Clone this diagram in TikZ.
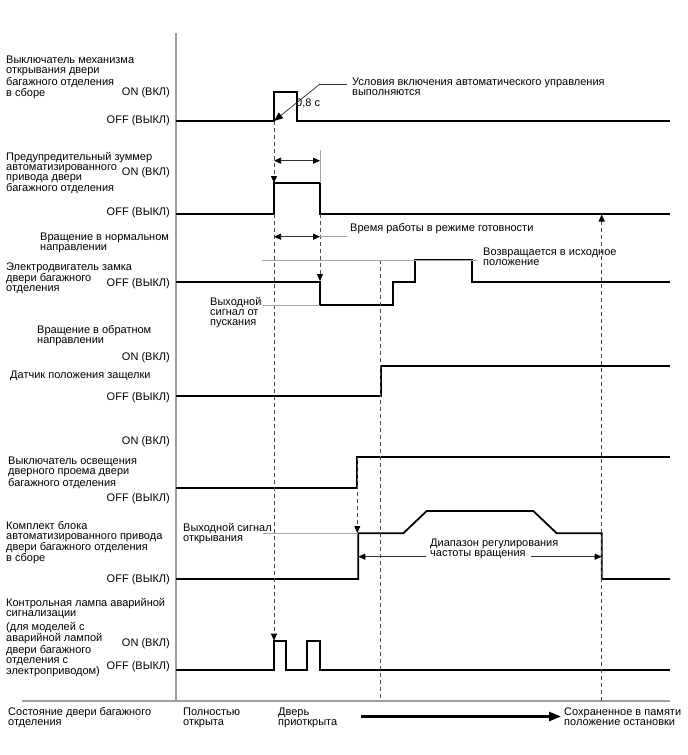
\documentclass[tikz,border=0pt]{standalone}
\usepackage{fontspec}
\setmainfont{Liberation Sans}
\usetikzlibrary{arrows.meta}
\begin{document}
\begin{tikzpicture}[x=1pt,y=-1pt,
  txt/.style={font=\fontsize{11}{10}\selectfont, inner sep=0pt, align=left, anchor=north west},
  st/.style={font=\fontsize{11}{10}\selectfont, inner sep=0pt, anchor=base east},
  sig/.style={line width=1.8pt, line join=miter, black},
  axisline/.style={line width=1.1pt, gray!75},
  thinline/.style={line width=0.7pt, gray!70},
  arrline/.style={line width=0.75pt, black!80},
  dashline/.style={line width=0.8pt, gray!60!black, dash pattern=on 4pt off 3pt},
  tip/.style={-{Triangle[length=7pt,width=6pt,color=black]}},
  dtip/.style={{Triangle[length=7pt,width=6pt,color=black]}-{Triangle[length=7pt,width=6pt,color=black]}},
]
\useasboundingbox (0,0) rectangle (688,755);
\fill[white] (0,0) rectangle (688,755);

% axes
\coordinate (axT) at (176,33);
\coordinate (axB) at (176,701);
\coordinate (blL) at (22,701);
\coordinate (blR) at (670,701);
\draw[axisline] (axT) -- (axB);
\draw[axisline] (blL) -- (blR);

% ---------- left labels ----------
\node[txt] (l1) at (6,56) {Выключатель механизма\\открывания двери\\багажного отделения\\в сборе};
\node[st] (on1) at (170,95) {ON (ВКЛ)};
\node[st] (off1) at (170,123) {OFF (ВЫКЛ)};

\node[txt] (l2) at (6,152) {Предупредительный зуммер\\автоматизированного\\привода двери\\багажного отделения};
\node[st] (on2) at (170,175) {ON (ВКЛ)};
\node[st] (off2) at (170,215) {OFF (ВЫКЛ)};

\node[txt] (l3) at (40,232.5) {Вращение в нормальном\\направлении};
\node[txt] (l4) at (6,262.5) {Электродвигатель замка\\двери багажного\\отделения};
\node[st] (off4) at (170,286) {OFF (ВЫКЛ)};

\node[txt] (l5) at (37,325.5) {Вращение в обратном\\направлении};
\node[st] (on5) at (170,360) {ON (ВКЛ)};
\node[txt] (l6) at (10,370.5) {Датчик положения защелки};
\node[st] (off5) at (170,400) {OFF (ВЫКЛ)};

\node[st] (on7) at (170,444) {ON (ВКЛ)};
\node[txt] (l7) at (8,457) {Выключатель освещения\\дверного проема двери\\багажного отделения};
\node[st] (off7) at (170,501) {OFF (ВЫКЛ)};

\node[txt] (l8) at (6,521) {Комплект блока\\автоматизированного привода\\двери багажного отделения\\в сборе};
\node[st] (off8) at (170,582) {OFF (ВЫКЛ)};

\node[txt] (l9) at (6,598.5) {Контрольная лампа аварийной\\сигнализации\\[2pt](для моделей с\\аварийной лампой\\двери багажного\\отделения с\\электроприводом)};
\node[st] (on9) at (170,646) {ON (ВКЛ)};
\node[st] (off9) at (170,669) {OFF (ВЫКЛ)};

% ---------- signals ----------
\draw[sig] (176,121) -- (274,121) -- (274,91.7) -- (296.7,91.7) -- (296.7,121) -- (670,121);
\draw[sig] (176,214) -- (274,214) -- (274,183) -- (320,183) -- (320,214) -- (670,214);
\draw[sig] (176,282) -- (320,282) -- (320,305) -- (392.7,305) -- (392.7,282) -- (415,282) -- (415,260) -- (472,260) -- (472,282) -- (670,282);
\draw[sig] (176,396) -- (380.7,396) -- (380.7,366) -- (670,366);
\draw[sig] (176,488) -- (357.3,488) -- (357.3,457) -- (670,457);
\draw[sig] (176,579) -- (358.3,579) -- (358.3,533.3) -- (403.3,533.3) -- (426.7,511) -- (533.3,511) -- (556.7,533.3) -- (601.7,533.3) -- (601.7,579) -- (670,579);
\draw[sig] (176,670) -- (274,670) -- (274,640.7) -- (285.7,640.7) -- (285.7,670) -- (307.3,670) -- (307.3,640.7) -- (320,640.7) -- (320,670) -- (670,670);

% ---------- dashed timing lines ----------
\draw[dashline,tip] (274,121) -- (274,183);
\draw[dashline,tip] (274,214) -- (274,640.7);
\draw[dashline,tip] (320,214) -- (320,281);
\draw[dashline] (380.7,260) -- (380.7,701);
\draw[dashline,tip] (357.3,457) -- (357.3,533);
\draw[dashline,tip] (601.7,701) -- (601.7,214.5);

% ---------- annotations ----------
\coordinate (c1a) at (347,84);
\coordinate (c1b) at (320,84);
\coordinate (c1c) at (274,121);
\draw[arrline] (c1a) -- (c1b);
\draw[arrline,-{Triangle[length=9pt,width=7pt,color=black]}] (c1b) -- (c1c);
\node[txt] (cond) at (352,77.5) {Условия включения автоматического управления\\выполняются};
\node[txt] (t08) at (296,98.5) {0,8 с};

\draw[thinline] (320,150) -- (320,183);
\draw[arrline,dtip] (274,160.7) -- (320,160.7);

\draw[arrline,dtip] (274,236.7) -- (320,236.7);
\draw[thinline] (320,236.7) -- (347,236.7);
\node[txt] (standby) at (350,223.5) {Время работы в режиме готовности};

\draw[thinline] (262,260) -- (478,260);
\node[txt] (ret) at (483,247.5) {Возвращается в исходное\\положение};

\draw[thinline] (263,305) -- (320,305);
\node[txt] (startout) at (210,297.5) {Выходной\\сигнал от\\пускания};

\draw[thinline] (263,533.3) -- (358.3,533.3);
\node[txt] (openout) at (183,523.5) {Выходной сигнал\\открывания};

\draw[arrline,tip] (426,556.7) -- (358.3,556.7);
\draw[arrline,tip] (531,556.7) -- (601.7,556.7);
\node[txt] (range) at (430,539) {Диапазон регулирования\\частоты вращения};

% ---------- bottom row ----------
\node[txt] (b1) at (8,707.5) {Состояние двери багажного\\отделения};
\node[txt] (b2) at (183,707.5) {Полностью\\открыта};
\node[txt] (b3) at (278,707.5) {Дверь\\приоткрыта};
\node[txt] (b4) at (564,707.5) {Сохраненное в памяти\\положение остановки};
\coordinate (arS) at (361,716.5);
\coordinate (arE) at (561,716.5);
\draw[line width=2.6pt,-{Triangle[length=12pt,width=9pt]}] (arS) -- (arE);
\end{tikzpicture}
\end{document}
